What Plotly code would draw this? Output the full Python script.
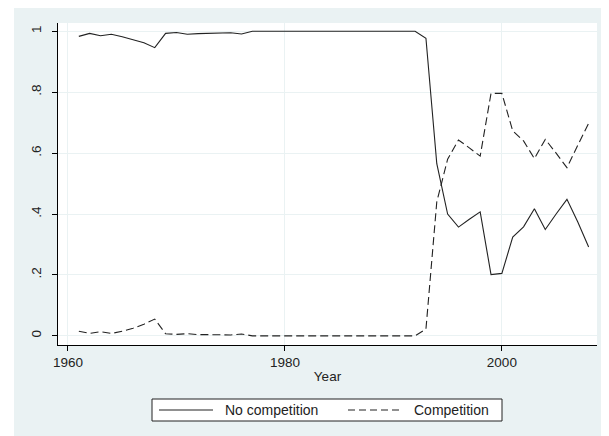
import plotly.graph_objects as go

years = list(range(1961, 2009))
no_competition = [0.983, 0.993, 0.985, 0.990, 0.982, 0.972, 0.962, 0.946,
                  0.993, 0.996, 0.990, 0.992, 0.993, 0.995, 0.995, 0.991,
                  1.0, 1.0, 1.0, 1.0, 1.0, 1.0, 1.0, 1.0,
                  1.0, 1.0, 1.0, 1.0, 1.0, 1.0, 1.0, 1.0,
                  0.977, 0.565, 0.400, 0.357, 0.383, 0.407, 0.201, 0.205,
                  0.324, 0.358, 0.417, 0.349, 0.400, 0.448, 0.374, 0.292]
competition = [0.015, 0.008, 0.014, 0.008, 0.015, 0.025, 0.038, 0.055,
               0.007, 0.005, 0.007, 0.004, 0.004, 0.003, 0.003, 0.006,
               0, 0, 0, 0, 0, 0, 0, 0,
               0, 0, 0, 0, 0, 0, 0, 0,
               0.022, 0.440, 0.580, 0.643, 0.617, 0.590, 0.796, 0.796,
               0.673, 0.640, 0.582, 0.645, 0.600, 0.552, 0.626, 0.698]
series_names = ["No competition", "Competition"]
y_ticks = [0, 0.2, 0.4, 0.6, 0.8, 1]
y_tick_labels = ["0", ".2", ".4", ".6", ".8", "1"]
x_ticks = [1960, 1980, 2000]

BG = "#EAF2F3"
INK = "#222222"
FONT = "Liberation Sans, Arial, sans-serif"
DASH = "8px,4px"

W, H = 609, 436
OFF = 8  # page body margin shifts the figure on screen
# plot area on screen: x 58..597, y 23..345
ML, MT = 58 - OFF, 23 - OFF
MR, MB = W - (597 - OFF), H - (345 - OFF)
PW, PH = W - ML - MR, H - MT - MB


def px(x):  # screen x -> paper x
    return (x - OFF - ML) / PW


def py(y):  # screen y -> paper y
    return (H - MB - (y - OFF)) / PH


fig = go.Figure()
fig.add_trace(go.Scatter(x=years, y=no_competition, mode="lines", name=series_names[0],
                         line=dict(color=INK, width=1.1), showlegend=False))
fig.add_trace(go.Scatter(x=years, y=competition, mode="lines", name=series_names[1],
                         line=dict(color=INK, width=1.1, dash=DASH), showlegend=False))

leg_top, leg_bot = 399, 421
leg_mid = (leg_top + leg_bot) / 2
shapes = [
    dict(type="rect", xref="paper", yref="paper", x0=-0.3, x1=px(14), y0=-0.5, y1=1.3,
         fillcolor="white", line=dict(width=0), layer="below"),
    dict(type="rect", xref="paper", yref="paper", x0=px(152), x1=px(502),
         y0=py(leg_bot), y1=py(leg_top), fillcolor="white", line=dict(color=INK, width=1)),
    dict(type="line", xref="paper", yref="paper", x0=px(159), x1=px(213),
         y0=py(leg_mid), y1=py(leg_mid), line=dict(color=INK, width=1.1)),
    dict(type="line", xref="paper", yref="paper", x0=px(348), x1=px(402),
         y0=py(leg_mid), y1=py(leg_mid), line=dict(color=INK, width=1.1, dash="7px,4px")),
]
annotations = [
    dict(text=series_names[0], xref="paper", yref="paper", x=px(223), y=py(leg_mid),
         xanchor="left", yanchor="middle", showarrow=False, font=dict(size=14, color=INK)),
    dict(text=series_names[1], xref="paper", yref="paper", x=px(412), y=py(leg_mid),
         xanchor="left", yanchor="middle", showarrow=False, font=dict(size=14, color=INK)),
]

fig.update_layout(
    width=W, height=H,
    margin=dict(l=ML, r=MR, t=MT, b=MB),
    paper_bgcolor=BG, plot_bgcolor="white",
    font=dict(family=FONT, size=13.5, color=INK),
    showlegend=False,
    shapes=shapes, annotations=annotations,
)
fig.update_xaxes(range=[1959.08, 2008.77], tickvals=x_ticks, showgrid=True, gridcolor=BG,
                 gridwidth=1, showline=True, linecolor="black", linewidth=1,
                 ticks="outside", ticklen=5, tickcolor="black", zeroline=False,
                 automargin=False, tickfont=dict(size=13.5),
                 title=dict(text="Year", standoff=2, font=dict(size=13.5)))
fig.update_yaxes(range=[-0.03, 1.027], tickvals=y_ticks, ticktext=y_tick_labels,
                 tickangle=-90, showgrid=True, gridcolor=BG, gridwidth=1,
                 showline=True, linecolor="black", linewidth=1, ticks="outside",
                 ticklen=5, tickcolor="black", zeroline=False, automargin=False,
                 tickfont=dict(size=13.5), ticklabelstandoff=6)

fig.write_html("out.html")
